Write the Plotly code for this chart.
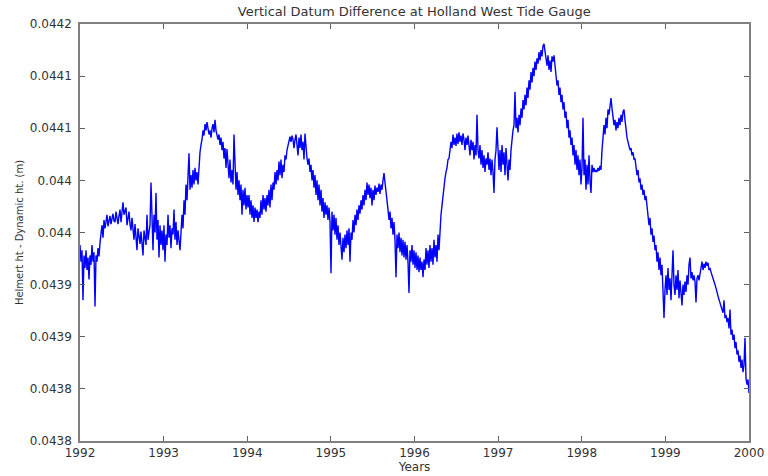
import numpy as np
import plotly.graph_objects as go

# Helmert ht - Dynamic ht, in micrometres, one list per year
d1992 = [43988,43972,43983,43935,43978,43966,43983,43964,43976,43955,43978,43969,43988,43972,43981,43929,
         43978,43972,43985,43977,43990,43998,44007,43995,44012,44004,44010,44017,44006,44014,44016,44008,
         44012,44018,44011,44010,44020,44014,44008,44016,44022,44010,44018,44029,44017,44020,44024,44007,
         44015,44020,44008,44002,44014,44005,43993,44008,43998,43983,44004,43995,43989,44001,43990,43978,
         44002,43995,43988,44017,43993,44000,44007,44048,44002,43983,44017,44000,44038,43993,44012,43976,
         44007,43988,44002,43983]
d1993 = [44007,43972,43998,43988,44017,43995,44007,43985,44004,43998,44022,43993,44010,43988,44002,43995,
         43983,44000,44017,44004,44031,44017,44046,44031,44055,44076,44041,44055,44043,44060,44046,44062,
         44050,44058,44046,44065,44077,44084,44089,44098,44093,44104,44098,44106,44100,44094,44098,44091,
         44100,44104,44096,44108,44098,44094,44089,44094,44084,44091,44079,44087,44071,44081,44062,44080,
         44065,44052,44070,44048,44060,44046,44094,44055,44041,44058,44036,44050,44031,44046,44017,44041,
         44026,44043,44022,44036]
d1994 = [44024,44036,44017,44031,44014,44026,44010,44024,44014,44022,44010,44020,44014,44031,44017,44036,
         44022,44033,44020,44036,44026,44041,44024,44046,44031,44048,44041,44058,44046,44060,44050,44068,
         44055,44070,44052,44065,44058,44074,44070,44079,44084,44089,44092,44087,44093,44089,44081,44089,
         44094,44084,44074,44091,44081,44094,44079,44087,44070,44095,44079,44071,44065,44071,44058,44065,
         44050,44060,44043,44055,44036,44050,44031,44046,44026,44041,44020,44033,44014,44029,44017,44026,
         44012,44024,44010]
d1995 = [43961,44020,44002,44017,43998,44014,43993,44007,43988,44000,43983,43974,43995,43981,43998,43985,
         44002,43988,44004,43972,44000,43993,44012,44000,44017,44007,44022,44012,44026,44018,44031,44022,
         44036,44026,44041,44031,44048,44036,44046,44033,44043,44026,44041,44031,44045,44036,44043,44039,
         44047,44037,44046,44041,44050,44057,44048,44041,44031,44022,44012,44020,44004,44014,43998,44010,
         43993,43957,43998,43985,44000,43981,43995,43978,43993,43976,43991,43974,43988,43972,43942,43983,
         43972,43988,43969,43983]
d1996 = [43966,43981,43964,43978,43962,43976,43964,43972,43957,43974,43964,43985,43969,43983,43966,43988,
         43972,43985,43969,43993,43976,43988,43972,43998,43983,44007,44017,44026,44036,44041,44052,44058,
         44062,44070,44071,44079,44087,44081,44094,44084,44091,44083,44095,44085,44096,44087,44093,44084,
         44095,44089,44079,44091,44084,44093,44081,44074,44089,44079,44087,44070,44084,44074,44113,44079,
         44071,44084,44065,44079,44062,44074,44058,44071,44065,44077,44060,44071,44055,44070,44058,44038,
         44070,44079,44101,44074]
d1997 = [44060,44079,44058,44084,44065,44077,44055,44081,44062,44050,44070,44060,44079,44091,44098,44103,
         44135,44100,44110,44096,44113,44103,44119,44110,44127,44118,44132,44122,44139,44129,44146,44137,
         44154,44144,44158,44150,44164,44156,44167,44162,44173,44165,44175,44169,44179,44181,44173,44167,
         44160,44170,44156,44165,44154,44169,44164,44170,44158,44151,44141,44146,44132,44139,44125,44132,
         44118,44125,44110,44116,44100,44108,44091,44098,44084,44091,44074,44084,44065,44079,44060,44074,
         44055,44070,44046,44062]
d1998 = [44110,44055,44070,44041,44065,44046,44074,44050,44038,44065,44058,44062,44058,44060,44058,44062,
         44059,44064,44060,44079,44089,44103,44094,44110,44100,44118,44113,44125,44129,44119,44110,44103,
         44108,44098,44106,44100,44110,44103,44113,44106,44116,44118,44108,44098,44091,44087,44083,44079,
         44081,44074,44077,44070,44071,44062,44055,44060,44048,44052,44041,44046,44036,44041,44031,44035,
         44026,44017,44007,44014,43998,44004,43991,43997,43983,43988,43972,43981,43964,43976,43959,43969,
         43950,43918,43945]
d1999 = [43959,43940,43966,43945,43956,43935,43964,43983,43950,43940,43959,43945,43964,43937,43954,43943,
         43930,43950,43940,43953,43943,43959,43950,43969,43976,43956,43962,43954,43959,43953,43933,43956,
         43959,43954,43962,43966,43972,43964,43970,43966,43972,43968,43971,43964,43966,43962,43958,43956,
         43953,43950,43945,43943,43939,43935,43932,43930,43926,43923,43935,43918,43921,43914,43918,43908,
         43926,43902,43907,43897,43902,43889,43895,43883,43887,43876,43882,43870,43878,43866,43873,43899,
         43860,43854,43859,43846]

start_year, end_year = 1992, 2000
y_ticks = [0.04380, 0.04385, 0.04390, 0.04395, 0.04400, 0.04405, 0.04410, 0.04415, 0.04420]
y_tick_text = ["0.0438", "0.0438", "0.0439", "0.0439", "0.044", "0.044", "0.0441", "0.0441", "0.0442"]
x_ticks = [1992, 1993, 1994, 1995, 1996, 1997, 1998, 1999, 2000]

vals_um = d1992 + d1993 + d1994 + d1995 + d1996 + d1997 + d1998 + d1999
vals = [v * 1e-6 for v in vals_um]
years = np.linspace(start_year, end_year, len(vals))

fig = go.Figure()
fig.add_trace(go.Scatter(x=years, y=vals, mode="lines",
                         line=dict(color="#0000ff", width=1.4), showlegend=False))

font = "DejaVu Sans, Arial, sans-serif"
axis_common = dict(showgrid=False, zeroline=False, showline=True, linecolor="#808080",
                   linewidth=1.5, mirror="ticks", ticks="inside", ticklen=5,
                   tickcolor="#606060", tickwidth=1, automargin=False,
                   tickfont=dict(family=font, size=12, color="#333333"))

fig.update_layout(
    width=768, height=476,
    margin=dict(l=80, r=19, t=24, b=35),
    paper_bgcolor="white", plot_bgcolor="white",
    title=dict(text="Vertical Datum Difference at Holland West Tide Gauge",
               x=0.5394, xanchor="center", y=0.975, yanchor="middle",
               font=dict(family=font, size=13, color="#333333")),
    xaxis=dict(range=[start_year, end_year], tickvals=x_ticks,
               ticktext=[str(t) for t in x_ticks],
               title=dict(text="Years", standoff=0,
                          font=dict(family=font, size=12, color="#333333")),
               **axis_common),
    yaxis=dict(range=[0.04380, 0.04420], tickvals=y_ticks, ticktext=y_tick_text,
               ticklabelstandoff=4,
               title=dict(text="Helmert ht - Dynamic ht. (m)", standoff=4,
                          font=dict(family=font, size=10, color="#333333")),
               **axis_common),
)

fig.write_html("out.html")
